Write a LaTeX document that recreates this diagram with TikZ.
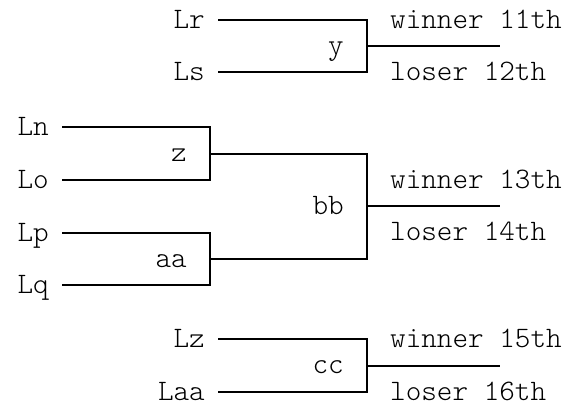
\documentclass[tikz,border=0pt]{standalone}
\usepackage{fontspec}
\usetikzlibrary{positioning}

\newfontfamily\bracketmono{Latin Modern Mono Light}
\newcommand\bracketfont{\bracketmono\fontsize{29.7}{33}\selectfont}

\begin{document}
\begin{tikzpicture}[
  x=1pt,
  y=-1pt,
  line join=miter,
  entrant/.style={
    font=\bracketfont,
    anchor=east,
    inner xsep=13pt,
    inner ysep=0pt,
    text height=17.5pt,
    text depth=0pt
  },
  game/.style={
    font=\bracketfont,
    anchor=east,
    inner xsep=23pt,
    inner ysep=0pt,
    text height=16pt,
    text depth=0pt
  },
  place/.style={
    font=\bracketfont,
    anchor=west,
    inner xsep=23pt,
    inner ysep=0pt,
    text height=17.5pt,
    text depth=0pt
  },
  bracket/.style={
    line width=2pt,
    draw=black
  }
]

\useasboundingbox (0,0) rectangle (572,412);

% =========================================================
% Game y: 11th / 12th
% =========================================================

\node[entrant] (lr) at (218,20) {Lr};
\node[entrant] (ls) at (218,72) {Ls};

\coordinate (y-top) at (367,20);
\coordinate (y-bot) at (367,72);
\coordinate (y-end) at (500,46);

\node[game] (y) at (367,46) {y};

\node[place] (w11) at (367,20) {winner 11th};
\node[place] (l12) at (367,72) {loser 12th};

\draw[bracket] (lr) -- (y-top) -- (y-bot) -- (ls);
\draw[bracket] (y.east) -- (y-end);


% =========================================================
% Games z, aa and bb: 13th / 14th
% =========================================================

\node[entrant] (ln) at (62,127) {Ln};
\node[entrant] (lo) at (62,180) {Lo};
\node[entrant] (lp) at (62,233) {Lp};
\node[entrant] (lq) at (62,285) {Lq};

\coordinate (z-top) at (210,127);
\coordinate (z-bot) at (210,180);
\coordinate (aa-top) at (210,233);
\coordinate (aa-bot) at (210,285);

\node[game] (z) at (210,153.5) {z};
\node[game] (aa) at (210,259) {aa};

\draw[bracket] (ln) -- (z-top) -- (z-bot) -- (lo);
\draw[bracket] (lp) -- (aa-top) -- (aa-bot) -- (lq);

% ---------------- final of the group ----------------

\coordinate (bb-top) at (367,153.5);
\coordinate (bb-bot) at (367,259);
\coordinate (bb-end) at (500,206);

\node[game] (bb) at (367,206) {bb};

\node[place] (w13) at (367,180) {winner 13th};
\node[place] (l14) at (367,232) {loser 14th};

\draw[bracket] (z.east) -- (bb-top) -- (bb-bot) -- (aa.east);
\draw[bracket] (bb.east) -- (bb-end);


% =========================================================
% Game cc: 15th / 16th
% =========================================================

\node[entrant] (lz) at (218,339) {Lz};
\node[entrant] (laa) at (218,392) {Laa};

\coordinate (cc-top) at (367,339);
\coordinate (cc-bot) at (367,392);
\coordinate (cc-end) at (500,365.5);

\node[game] (cc) at (367,365.5) {cc};

\node[place] (w15) at (367,339) {winner 15th};
\node[place] (l16) at (367,392) {loser 16th};

\draw[bracket] (lz) -- (cc-top) -- (cc-bot) -- (laa);
\draw[bracket] (cc.east) -- (cc-end);

\end{tikzpicture}
\end{document}
